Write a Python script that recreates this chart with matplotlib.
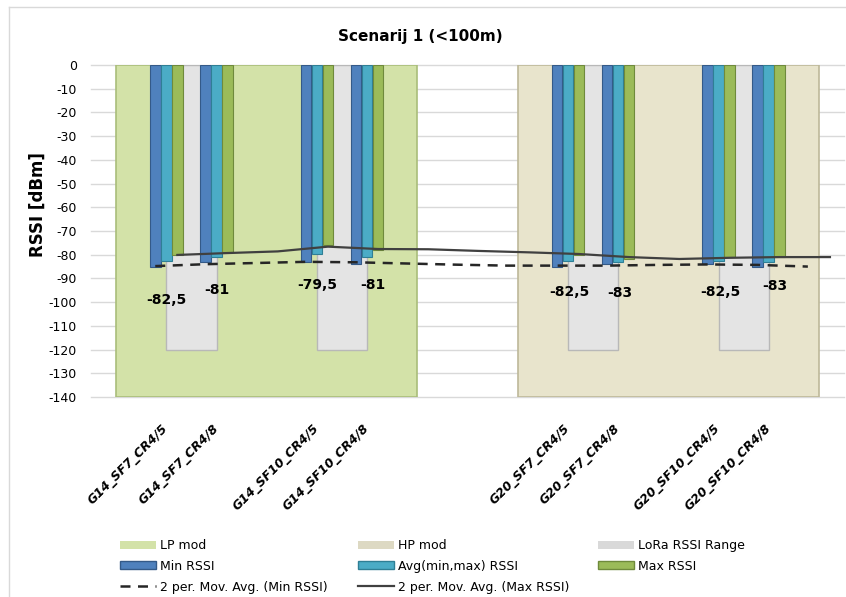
import numpy as np
import matplotlib.pyplot as plt
from matplotlib.lines import Line2D
from matplotlib.patches import Patch

nan = np.nan

# category slots along the x axis (blank slots are empty in the original chart)
categories = ['', 'G14_SF7_CR4/5', 'G14_SF7_CR4/8', '', 'G14_SF10_CR4/5', 'G14_SF10_CR4/8',
              '', '', '', 'G20_SF7_CR4/5', 'G20_SF7_CR4/8', '', 'G20_SF10_CR4/5', 'G20_SF10_CR4/8', '']

min_rssi = [nan, -85, -83, nan, -83, -84, nan, nan, nan, -85, -84, nan, -84, -85, nan]
avg_rssi = [nan, -82.5, -81, nan, -79.5, -81, nan, nan, nan, -82.5, -83, nan, -82.5, -83, nan]
max_rssi = [nan, -80, -79, nan, -76, -78, nan, nan, nan, -80, -82, nan, -81, -81, nan]

# 2 period moving average trendlines, as Excel drew them
ma_min = [nan, -84.8, -84.0, -83.5, -83.0, -83.2, -83.7, -84.2, -84.6, -84.6, -84.6, -84.3, -84.1, -84.3, -85.0]
ma_max = [nan, -80.1, -79.3, -78.6, -76.6, -77.6, -77.7, -78.4, -79.0, -79.7, -81.0, -81.8, -81.3, -81.0, -81.0]

# LP / HP mode background areas (from slot, to slot, depth)
mode_names = ['LP mod', 'HP mod']
mode_from = [0, 8]
mode_to = [6, 14]
mode_floor = [-140, -140]

# LoRa RSSI range, one block between each CR4/5 - CR4/8 pair
range_start = ['G14_SF7_CR4/5', 'G14_SF10_CR4/5', 'G20_SF7_CR4/5', 'G20_SF10_CR4/5']
range_floor = [-120, -120, -120, -120]

yticks = list(range(-140, 1, 10))

# label nudges in pixels (avg value labels)
lab_dx = [0, 0, 0, 6, 1, 2, 2, 6]
lab_dy = [-39, -33, -31, -28, -31, -31, -31, -24]

c_min, c_avg, c_max = '#4f81bd', '#4bacc6', '#9bbb59'
c_lp, c_hp, c_rng = '#d3e2a8', '#e8e4cc', '#e4e4e4'

fig = plt.figure(figsize=(8.46, 5.97), dpi=100)
ax = fig.add_axes([91/846, 1-397/597, 753/846, 332/597])

x = np.arange(len(categories))
mn = np.array(min_rssi, dtype=float)
av = np.array(avg_rssi, dtype=float)
mx = np.array(max_rssi, dtype=float)
ok = ~np.isnan(av)

# backgrounds
mode_cols = [c_lp, c_hp]
mode_edges = ['#a9bd7a', '#bdb899']
for i in range(len(mode_names)):
    ax.bar((mode_from[i] + mode_to[i]) / 2, mode_floor[i], width=mode_to[i] - mode_from[i],
           color=mode_cols[i], edgecolor=mode_edges[i], lw=1.2, zorder=1)

rx = np.array([categories.index(s) for s in range_start]) + 0.5
ax.bar(rx, range_floor, width=1.0, color=c_rng, edgecolor='#b8b8b8', lw=1, zorder=2)

w = 0.21
ax.bar(x[ok] - 0.22, mn[ok], w, color=c_min, edgecolor='#345a88', lw=0.8, zorder=3)
ax.bar(x[ok], av[ok], w, color=c_avg, edgecolor='#2f7f95', lw=0.8, zorder=3)
ax.bar(x[ok] + 0.22, mx[ok], w, color=c_max, edgecolor='#6f8a3c', lw=0.8, zorder=3)

ax.plot(x - 0.22, ma_min, color='#262626', lw=1.8, ls=(0, (4, 3)), zorder=4)
ax.plot(x + 0.22, ma_max, color='#404040', lw=1.6, zorder=4)

for j, i in enumerate(x[ok]):
    txt = f'{av[i]:g}'.replace('.', ',')
    ax.annotate(txt, (i, av[i]), xytext=(lab_dx[j], lab_dy[j]), textcoords='offset pixels',
                ha='center', va='center', fontsize=10, fontweight='bold', zorder=5)

ax.set_xlim(-0.5, len(categories) - 0.5)
ax.set_ylim(-140, 0)
ax.set_yticks(yticks)
ax.set_yticklabels([str(t) for t in yticks], fontsize=9)
ax.set_xticks(x[ok])
ax.set_xticklabels([categories[i] for i in x[ok]], rotation=45, ha='right', va='center',
                   rotation_mode='anchor', fontsize=9, fontweight='bold', fontstyle='italic')
ax.tick_params(axis='both', length=0)
ax.tick_params(axis='y', pad=10)
ax.tick_params(axis='x', pad=21)
ax.yaxis.grid(True, color='#d9d9d9', lw=1)
ax.set_axisbelow(True)
for gl in ax.get_ygridlines():
    gl.set_clip_on(False)
for s in ax.spines.values():
    s.set_visible(False)

fig.text(420/846, 1-36/597, 'Scenarij 1 (<100m)', ha='center', va='center',
         fontsize=11, fontweight='bold')
fig.text(38/846, 1-205/597, 'RSSI [dBm]', ha='center', va='center', rotation=90,
         fontsize=12, fontweight='bold')

# legend, three columns placed like Excel's
cols = [
    [Patch(facecolor=c_lp, label='LP mod'),
     Patch(facecolor=c_min, edgecolor='#345a88', label='Min RSSI'),
     Line2D([], [], color='#262626', lw=1.8, ls=(0, (4, 3)), label='2 per. Mov. Avg. (Min RSSI)')],
    [Patch(facecolor='#ddd9c3', label='HP mod'),
     Patch(facecolor=c_avg, edgecolor='#2f7f95', label='Avg(min,max) RSSI'),
     Line2D([], [], color='#404040', lw=1.6, label='2 per. Mov. Avg. (Max RSSI)')],
    [Patch(facecolor='#d9d9d9', label='LoRa RSSI Range'),
     Patch(facecolor=c_max, edgecolor='#6f8a3c', label='Max RSSI')],
]
col_x = [120, 358, 598]
for hx, hs in zip(col_x, cols):
    fig.legend(handles=hs, loc='upper left', bbox_to_anchor=(hx/846, 1-539/597),
               frameon=False, fontsize=9, borderpad=0, borderaxespad=0,
               handlelength=2.9, handleheight=0.6, handletextpad=0.3, labelspacing=0.62)

fig.add_artist(Line2D([9/846, 9/846], [0, 1-7/597], transform=fig.transFigure, color='#d9d9d9', lw=1))
fig.add_artist(Line2D([9/846, 1], [1-7/597, 1-7/597], transform=fig.transFigure, color='#d9d9d9', lw=1))

fig.savefig('out.png', dpi=100)
